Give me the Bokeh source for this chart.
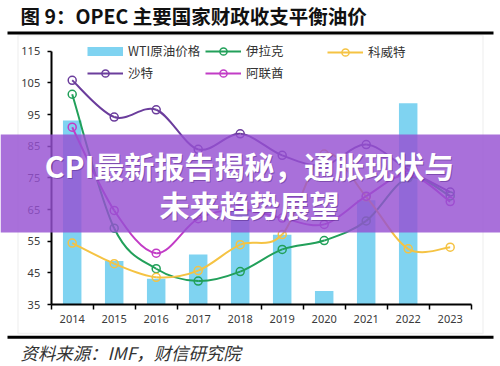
from bokeh.plotting import figure
from bokeh.models import (ColumnDataSource, FixedTicker, Range1d, Legend, LegendItem,
                          Label, BoxAnnotation, CustomJSTickFormatter)
from bokeh.embed import file_html
from bokeh.resources import INLINE

# ---------------- data ----------------
years = ["2014", "2015", "2016", "2017", "2018", "2019", "2020", "2021", "2022", "2023"]
wti = [93.1, 48.7, 43.1, 50.8, 65.0, 57.0, 39.3, 67.9, 98.6, None]
iraq = [101.4, 59.1, 46.3, 42.4, 45.4, 52.4, 55.2, 61.4, 75.0, 69.3]
kuwait = [54.4, 47.9, 43.6, 45.7, 53.9, 57.1, 82.5, 69.0, 52.6, 53.1]
saudi = [105.8, 94.2, 96.5, 84.0, 88.9, 82.1, 79.0, 85.5, 77.5, 70.5]
uae = [91.0, 64.7, 51.2, 62.1, 65.0, 62.3, 60.3, 69.2, 76.0, 67.5]
y_ticks = [35, 45, 55, 65, 75, 85, 95, 105, 115]

title_text = "图 9：OPEC 主要国家财政收支平衡油价"
source_text = "资料来源：IMF，财信研究院"
banner_1 = "CPI最新报告揭秘，通胀现状与"
banner_2 = "未来趋势展望"

C_WTI = "#7fd3f1"
C_IRAQ = "#22a05a"
C_KUW = "#f5c343"
C_SAU = "#6b3d9c"
C_UAE = "#c23cc6"
CJK = "Noto Sans CJK SC"

W, H = 500, 366
Y_MIN, Y_MAX = 35, 115
# pixel layout of the axes box inside the canvas
AX_L, AX_R, AX_T, AX_B = 50.7, 470.7, 50.7, 304.0
n = len(years)
ppx = (AX_R - AX_L) / n
ppy = (AX_B - AX_T) / (Y_MAX - Y_MIN)

xs = [i + 0.5 for i in range(n)]

p = figure(width=W, height=H, output_backend="svg", toolbar_location=None,
           x_range=Range1d(-AX_L / ppx, (W - AX_L) / ppx),
           y_range=Range1d(Y_MIN - (H - AX_B) / ppy, Y_MAX + AX_T / ppy),
           min_border=0)
p.outline_line_color = None
p.xgrid.visible = False
p.ygrid.visible = False
p.background_fill_color = "white"
p.border_fill_color = "white"

# axes
xa = p.xaxis[0]
ya = p.yaxis[0]
xa.fixed_location = Y_MIN
xa.bounds = (0, n)
ya.fixed_location = 0
ya.bounds = (Y_MIN, Y_MAX)

xa.ticker = FixedTicker(ticks=xs, minor_ticks=list(range(n + 1)))
xa.formatter = CustomJSTickFormatter(args=dict(labels=years),
                                     code="return labels[Math.floor(tick)];")
xa.major_tick_line_color = None
xa.major_tick_out = 5
xa.major_tick_in = 0
xa.minor_tick_out = 5
xa.minor_tick_in = 0
xa.minor_tick_line_color = "black"
xa.minor_tick_line_width = 1.5
xa.major_label_standoff = 5

ya.ticker = FixedTicker(ticks=y_ticks, minor_ticks=[])
ya.major_tick_out = 4
ya.major_tick_in = 0
ya.major_tick_line_width = 1.5
ya.major_label_standoff = 7

for ax in (xa, ya):
    ax.axis_line_color = "black"
    ax.axis_line_width = 2
    ax.major_label_text_font = "Noto Sans"
    ax.major_label_text_font_size = "11px"
    ax.major_label_text_color = "#3a3a3a"

# bars
bx = [x for x, v in zip(xs, wti) if v is not None]
bv = [v for v in wti if v is not None]
bar_src = ColumnDataSource(dict(x=bx, top=bv))
p.vbar(x="x", top="top", bottom=Y_MIN, width=0.44, source=bar_src,
       fill_color=C_WTI, line_color=None)
# legend swatch for the bars (draws nothing in the plot area)
wti_proxy = p.line(x=[float("nan")], y=[float("nan")], line_color=C_WTI, line_width=9)


def smooth_source(vals):
    pts = list(zip(xs, vals))
    m = len(pts)
    d = dict(x0=[], y0=[], x1=[], y1=[], cx0=[], cy0=[], cx1=[], cy1=[])
    for i in range(m - 1):
        p0 = pts[i - 1] if i > 0 else pts[i]
        p1 = pts[i]
        p2 = pts[i + 1]
        p3 = pts[i + 2] if i + 2 < m else pts[i + 1]
        d["x0"].append(p1[0]); d["y0"].append(p1[1])
        d["x1"].append(p2[0]); d["y1"].append(p2[1])
        d["cx0"].append(p1[0] + (p2[0] - p0[0]) / 6)
        d["cy0"].append(p1[1] + (p2[1] - p0[1]) / 6)
        d["cx1"].append(p2[0] - (p3[0] - p1[0]) / 6)
        d["cy1"].append(p2[1] - (p3[1] - p1[1]) / 6)
    return ColumnDataSource(d)


renderers = {}
for name, vals, col in [("iraq", iraq, C_IRAQ), ("kuwait", kuwait, C_KUW),
                        ("saudi", saudi, C_SAU), ("uae", uae, C_UAE)]:
    b = p.bezier(x0="x0", y0="y0", x1="x1", y1="y1", cx0="cx0", cy0="cy0",
                 cx1="cx1", cy1="cy1", source=smooth_source(vals),
                 line_color=col, line_width=2)
    s = p.scatter(x=xs, y=vals, marker="circle", size=8, line_color=col,
                  line_width=1.5, fill_color=None)
    renderers[name] = [b, s]


def mk_legend(items, loc):
    lg = Legend(items=items, location=loc, orientation="vertical", padding=0,
                spacing=3, glyph_width=36, glyph_height=18, label_height=18,
                label_standoff=5, border_line_color=None, background_fill_alpha=0,
                label_text_font=CJK, label_text_font_size="12.5px",
                label_text_color="#333333")
    p.add_layout(lg)


# legend locations: (left, bottom) in screen px from canvas bottom-left
mk_legend([LegendItem(label="WTI原油价格", renderers=[wti_proxy]),
           LegendItem(label="沙特", renderers=renderers["saudi"])], (87, H - 82))
mk_legend([LegendItem(label="伊拉克", renderers=renderers["iraq"]),
           LegendItem(label="阿联酋", renderers=renderers["uae"])], (205, H - 82))
mk_legend([LegendItem(label="科威特", renderers=renderers["kuwait"])], (327, H - 61))


def sbox(l, r, top_px, bot_px, **kw):
    p.add_layout(BoxAnnotation(left=l, right=r, bottom=H - bot_px, top=H - top_px,
                               left_units="screen", right_units="screen",
                               bottom_units="screen", top_units="screen", **kw))


# frame decorations
sbox(17.5, 482.5, 35, 333, fill_alpha=0, line_color="#d4d4d4", line_width=1.5)
sbox(7, 493, 31, 34, fill_color="black", fill_alpha=1, line_color=None)
sbox(7, 493, 335.2, 338.2, fill_color="black", fill_alpha=1, line_color=None)

p.add_layout(Label(x=20, y=H - 15, x_units="screen", y_units="screen", text=title_text,
                   text_font=CJK, text_font_style="bold", text_font_size="19.5px",
                   text_baseline="middle", text_color="#111111"))
p.add_layout(Label(x=20, y=H - 352, x_units="screen", y_units="screen", text=source_text,
                   text_font=CJK, text_font_style="italic", text_font_size="17.4px",
                   text_baseline="middle", text_color="#333333"))

# overlay banner
sbox(0, W, 134, 232, fill_color="#9650d2", fill_alpha=0.82, line_color=None,
     level="overlay")
for txt, y_px in [(banner_1, 164), (banner_2, 203)]:
    p.add_layout(Label(x=250, y=H - y_px - 1, x_units="screen", y_units="screen",
                       text=txt, text_font=CJK, text_font_style="bold",
                       text_font_size="30px", text_align="center",
                       text_baseline="middle", text_color="#4a1f7a", text_alpha=0.45,
                       level="overlay"))
    p.add_layout(Label(x=249, y=H - y_px, x_units="screen", y_units="screen",
                       text=txt, text_font=CJK, text_font_style="bold",
                       text_font_size="30px", text_align="center",
                       text_baseline="middle", text_color="white", level="overlay"))

open("out.html", "w").write(file_html(p, INLINE))
